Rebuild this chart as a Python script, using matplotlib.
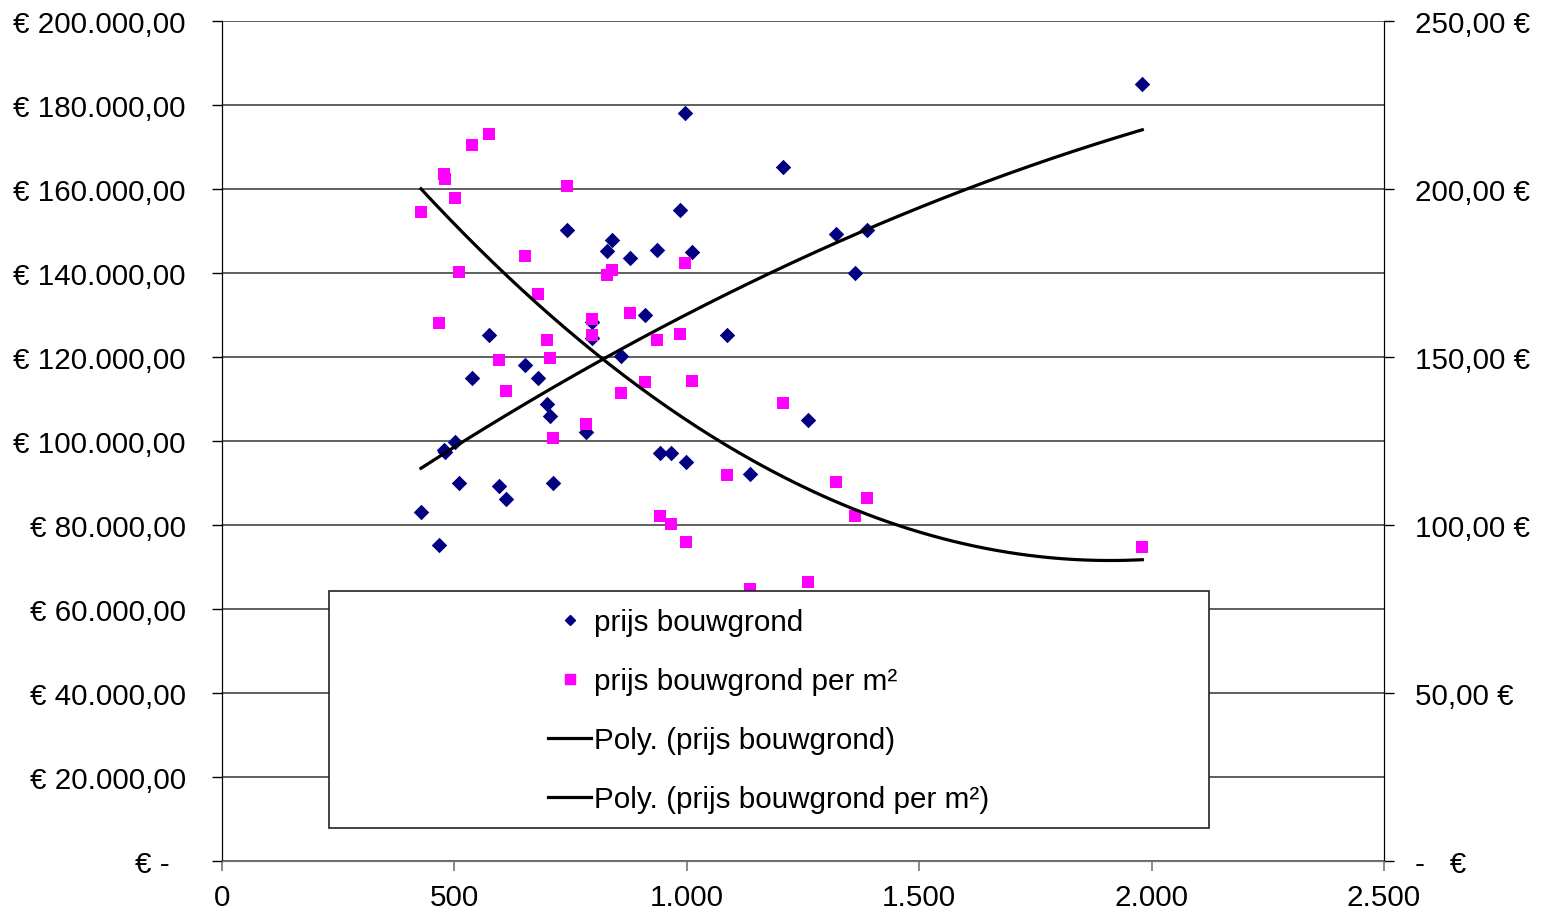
import numpy as np
import matplotlib.pyplot as plt
from matplotlib.lines import Line2D
from matplotlib.patches import Rectangle

plt.rcParams['font.family'] = ['Liberation Sans', 'DejaVu Sans']

# oppervlakte (m2) en prijs bouwgrond (linker as)
opp = [428, 467, 478, 480, 501, 510, 538, 575, 596, 611, 652, 680, 700, 706, 712,
       743, 783, 796, 796, 829, 839, 859, 878, 910, 936, 943, 966, 986, 997, 999,
       1012, 1087, 1136, 1207, 1261, 1322, 1362, 1388, 1980]
prijs = [83100, 75200, 97900, 97400, 99800, 90000, 115000, 125200, 89300, 86200,
         118100, 115000, 108800, 106000, 90000, 150200, 102100, 128400, 124600,
         145200, 147900, 120200, 143600, 130000, 145500, 97100, 97100, 155000,
         178100, 95000, 145000, 125200, 92100, 165200, 105000, 149300, 140000,
         150200, 185000]
# prijs per m2 (rechter as)
prijs_m2 = [193.2, 160.1, 204.5, 203.0, 197.3, 175.3, 213.1, 216.4, 149.1, 139.9,
            180.1, 168.8, 155.1, 149.7, 125.9, 200.9, 130.1, 161.3, 156.5, 174.4,
            175.9, 139.3, 163.1, 142.6, 155.1, 102.7, 100.3, 156.8, 178.0, 94.9,
            142.9, 114.9, 81.0, 136.3, 83.0, 112.8, 102.7, 108.0, 93.5]

left_ticks = np.arange(0, 200001, 20000)
right_ticks = np.arange(0, 251, 50)
x_ticks = np.arange(0, 2501, 500)

FS = 21.3


def eur_left(v):
    if v == 0:
        return "€ -  "
    s = f"{v:,.2f}".replace(",", "X").replace(".", ",").replace("X", ".")
    return "€ " + s


def eur_right(v):
    if v == 0:
        return "-   €"
    return f"{v:.2f}".replace(".", ",") + " €"


def thousands(v):
    return f"{v:,.0f}".replace(",", ".")


fig = plt.figure(figsize=(15.46, 9.12), dpi=100)
ax = fig.add_axes([222 / 1546, 50 / 912, 1162 / 1546, 840 / 912])
ax2 = ax.twinx()

x = np.array(opp, dtype=float)
ax.scatter(opp, prijs, marker='D', s=62, color='#000080', zorder=3, linewidths=0)
ax2.scatter(opp, prijs_m2, marker='s', s=72, color='#FF00FF', zorder=3, linewidths=0)

# polynomiale trendlijnen (graad 2)
xx = np.linspace(x.min(), x.max(), 200)
c1 = np.polyfit(x, prijs, 2)
c2 = np.polyfit(x, prijs_m2, 2)
ax.plot(xx, np.polyval(c1, xx), color='black', lw=2.3, zorder=4)
ax2.plot(xx, np.polyval(c2, xx), color='black', lw=2.3, zorder=4)

ax.set_xlim(0, 2500)
ax.set_ylim(0, 200000)
ax2.set_ylim(0, 250)
ax.set_xticks(x_ticks)
ax.set_xticklabels([thousands(v) for v in x_ticks])
ax.set_yticks(left_ticks)
ax.set_yticklabels([eur_left(v) for v in left_ticks])
ax2.set_yticks(right_ticks)
ax2.set_yticklabels([eur_right(v) for v in right_ticks])

ax.grid(axis='y', color='#444444', lw=1.2)
ax.set_axisbelow(True)
for a in (ax, ax2):
    a.spines['top'].set_visible(False)
    a.spines['bottom'].set_color('#777777')
    a.spines['left'].set_color('black')
    a.spines['right'].set_color('black')
ax.tick_params(axis='y', length=7, width=1, labelsize=FS, pad=19, color='black')
ax.tick_params(axis='x', length=7, width=1.2, labelsize=FS, pad=9, color='#777777')
ax2.tick_params(axis='y', length=7, width=1, labelsize=FS, pad=15, color='black')

# legenda
ax2.add_patch(Rectangle((0.092, 0.039), 0.757, 0.282, transform=ax2.transAxes,
                        facecolor='white', edgecolor='#222222', lw=1.2, zorder=10))
handles = [Line2D([], [], ls='none', marker='D', ms=5, color='#000080'),
           Line2D([], [], ls='none', marker='s', ms=7, color='#FF00FF'),
           Line2D([], [], color='black', lw=2.3),
           Line2D([], [], color='black', lw=2.3)]
labels = ['prijs bouwgrond', 'prijs bouwgrond per m²',
          'Poly. (prijs bouwgrond)', 'Poly. (prijs bouwgrond per m²)']
leg = ax2.legend(handles, labels, loc='center', bbox_to_anchor=(0.4707, 0.179),
                 frameon=False, fontsize=FS, handlelength=1.45, handletextpad=0.1,
                 labelspacing=1.05)
leg.set_zorder(11)

fig.savefig('out.png', dpi=100)
